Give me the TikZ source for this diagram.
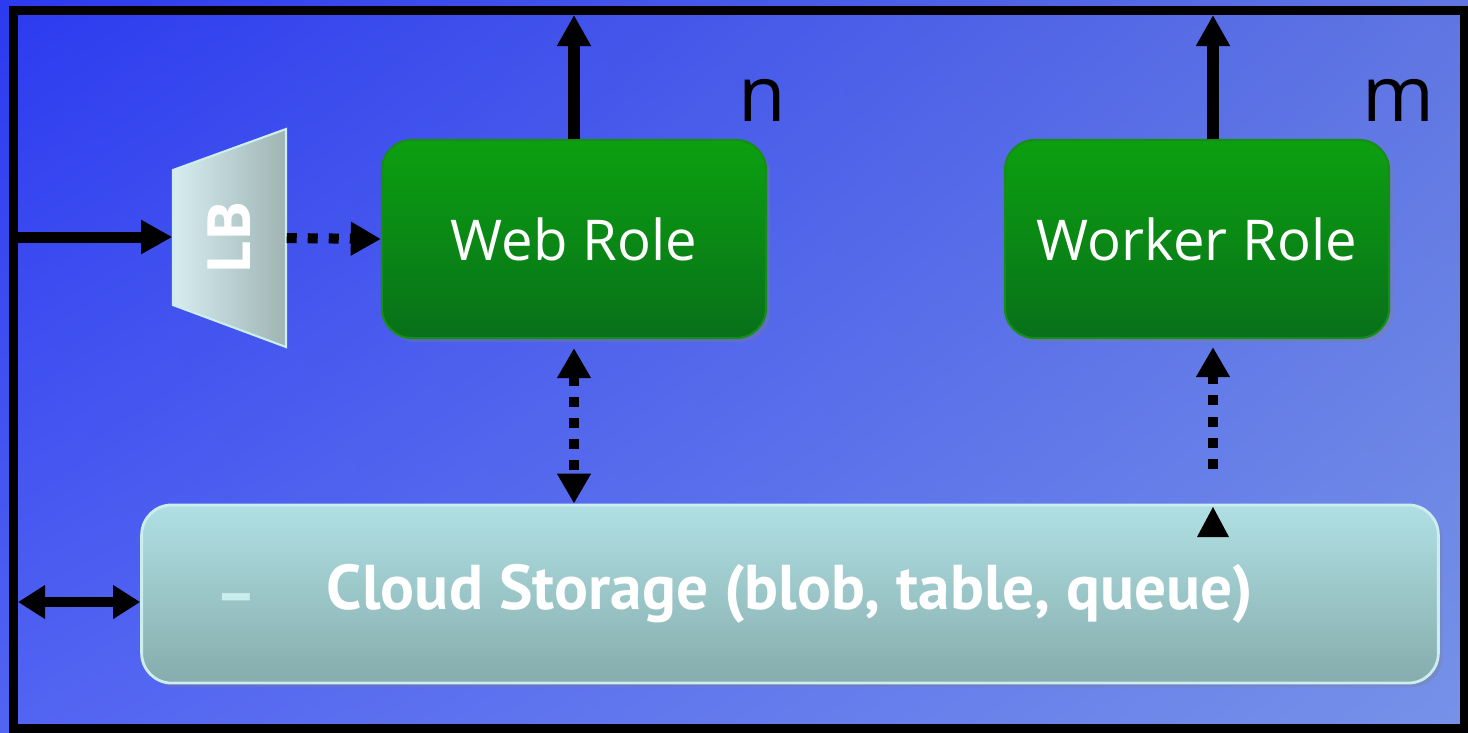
\documentclass[tikz,border=0pt]{standalone}
\usepackage{fontspec}
\setmainfont{Open Sans}
\newfontfamily\storefont{PT Sans}
\usetikzlibrary{arrows.meta,shadows,shadings}

\definecolor{bgtl}{RGB}{44,58,240}
\definecolor{bgtr}{RGB}{95,118,226}
\definecolor{bgbl}{RGB}{82,100,242}
\definecolor{bgbr}{RGB}{118,146,232}
\definecolor{greentop}{RGB}{12,160,16}
\definecolor{greenbot}{RGB}{8,112,26}
\definecolor{greenrim}{RGB}{24,140,24}
\definecolor{storetop}{RGB}{176,224,228}
\definecolor{storebot}{RGB}{134,172,172}
\definecolor{storerim}{RGB}{205,238,238}
\definecolor{lbleft}{RGB}{214,236,240}
\definecolor{lbright}{RGB}{160,180,180}

\tikzset{
  bigtip/.tip={Triangle[length=0.31cm,width=0.32cm]},
  sidetip/.tip={Triangle[length=0.27cm,width=0.32cm]},
  dottip/.tip={Triangle[length=0.3cm,width=0.32cm]}
}

\begin{document}
\begin{tikzpicture}[x=0.01cm,y=-0.01cm,
  role/.style={rounded corners=0.3cm,draw=greenrim,line width=0.6pt,
    top color=greentop,bottom color=greenbot,text=white,
    minimum width=3.84cm,minimum height=1.98cm,
    drop shadow={opacity=0.3,shadow xshift=0.04cm,shadow yshift=-0.04cm},
    font=\fontsize{16}{18}\selectfont},
  store/.style={rounded corners=0.3cm,draw=storerim,line width=0.8pt,
    top color=storetop,bottom color=storebot,text=white,
    minimum width=12.96cm,minimum height=1.78cm,
    drop shadow={opacity=0.3,shadow xshift=0.04cm,shadow yshift=-0.04cm},
    font=\storefont\bfseries\fontsize{18}{20}\selectfont},
  solid arrow/.style={line width=0.11cm,-bigtip},
  both arrow/.style={line width=0.1cm,sidetip-sidetip},
  dots/.style={line width=0.1cm,dash pattern=on 0.1cm off 0.11cm},
  count/.style={font=\fontsize{22}{24}\selectfont}]

  \useasboundingbox (0,0) rectangle (1468,732);
  \shade[upper left=bgtl,upper right=bgtr,lower left=bgbl,lower right=bgbr]
    (0,0) rectangle (1468,732);

  % load balancer
  \shade[left color=lbleft,right color=lbright,draw=storerim,line width=0.6pt]
    (173,170) -- (286,129) -- (286,347) -- (173,305) -- cycle;
  \node[minimum width=1.13cm,minimum height=2.18cm,inner sep=0,text=white,
    font=\bfseries\fontsize{17}{20}\selectfont] (lb) at (229.5,238) {\rotatebox{90}{LB}};

  \node[role] (web) at (574,239) {Web Role};
  \node[role] (worker) at (1197,239) {Worker Role};
  \node[store] (store) at (790,594) {\raisebox{-0.07cm}{Cloud Storage (blob, table, queue)}};
  \node[text=storerim!85!storetop,font=\storefont\bfseries\fontsize{18}{20}\selectfont] (bullet) at (236,605) {\textendash};

  \node[count] (n) at (762,100) {n};
  \node[count] (m) at (1398,100) {m};

  \coordinate (in) at (18,237);
  \coordinate (side) at (18,602);
  \coordinate (webout) at (574,15);
  \coordinate (workerout) at (1213,15);

  \draw[solid arrow] (in) -- (in -| lb.west);
  \draw[solid arrow] (web.north) -- (webout);
  \draw[solid arrow] (worker.north -| workerout) -- (workerout);
  \draw[both arrow] (side) -- (side -| store.west);

  \draw[dots,-dottip] (lb.east) -- (web.west);
  \draw[dots,dottip-dottip,shorten <=0.09cm] (web.south) -- (store.north -| web.south);
  \draw[dots,-dottip,shorten <=0.35cm,shorten >=0.08cm] (store.north -| workerout) -- (worker.south -| workerout);
  \fill (1197,537) -- (1229,537) -- (1213,507) -- cycle;

  % frame
  \draw[line width=0.09cm] (13.5,10) rectangle (1465,728);
\end{tikzpicture}
\end{document}
